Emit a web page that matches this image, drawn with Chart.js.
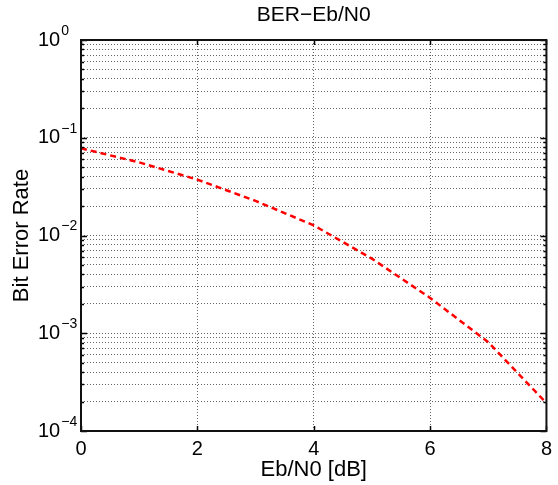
<!DOCTYPE html>
<html>
<head>
<meta charset="utf-8">
<title>BER-Eb/N0</title>
<script src="https://cdn.jsdelivr.net/npm/chart.js@4/dist/chart.umd.min.js"></script>
<style>
  html, body { margin: 0; padding: 0; background: #fff; }
  canvas { display: block; }
</style>
</head>
<body>
<canvas id="graph" width="558" height="485"></canvas>
<script>
var ebn0 = [0, 1, 2, 3, 4, 5, 6, 7, 8]; // Eb/N0 [dB]
var ber = [0.078, 0.056, 0.0373, 0.0226, 0.0127, 0.0058, 0.0023, 0.00081, 0.000193]; // bit error rate
var xTicks = [0, 2, 4, 6, 8];
var yExponents = [0, -1, -2, -3, -4]; // labels 10^n
var yMantissas = [1, 2, 3, 4, 5, 6, 7, 8, 9]; // minor grid in each decade

var fontFamily = '"Liberation Sans", Arial, Helvetica, sans-serif';
var gridColor = 'rgba(0,0,0,0.6)';

// every grid value of the log axis (1e-4 ... 1)
var yGrid = [];
yExponents.slice().reverse().forEach(function(e) {
    if (e === 0) { yGrid.push(1); return; }
    yMantissas.forEach(function(m) { yGrid.push(m * Math.pow(10, e)); });
});

var isDecade = function(v) {
    var l = Math.log10(v);
    return Math.abs(l - Math.round(l)) < 1e-9;
};

// box, inner ticks and 10^n labels, drawn the matlab way
var axesBox = {
    id: 'axesBox',
    afterDatasetsDraw: function(chart) {
        var ctx = chart.ctx;
        var area = chart.chartArea;
        var xs = chart.scales.x;
        var ys = chart.scales.y;
        ctx.save();
        ctx.setLineDash([]);
        ctx.strokeStyle = '#000';
        ctx.lineWidth = 1.5;
        ctx.beginPath();
        ys.ticks.forEach(function(t) {
            var y = Math.round(ys.getPixelForValue(t.value)) + 0.5;
            var len = isDecade(t.value) ? 6 : 3;
            ctx.moveTo(area.left, y); ctx.lineTo(area.left + len, y);
            ctx.moveTo(area.right - len, y); ctx.lineTo(area.right, y);
        });
        xs.ticks.forEach(function(t) {
            var x = Math.round(xs.getPixelForValue(t.value)) + 0.5;
            ctx.moveTo(x, area.top); ctx.lineTo(x, area.top + 5);
            ctx.moveTo(x, area.bottom); ctx.lineTo(x, area.bottom - 5);
        });
        ctx.stroke();
        ctx.lineWidth = 2;
        ctx.strokeStyle = '#111';
        ctx.strokeRect(area.left, area.top, area.right - area.left, area.bottom - area.top);

        // y labels with exponent
        ctx.fillStyle = '#000';
        ctx.textAlign = 'left';
        ctx.textBaseline = 'middle';
        yExponents.forEach(function(e) {
            var y = ys.getPixelForValue(Math.pow(10, e));
            ctx.font = '20px ' + fontFamily;
            ctx.fillText('10', 38, y);
            var w = ctx.measureText('10').width;
            ctx.font = '14px ' + fontFamily;
            ctx.fillText(e < 0 ? '\u2212' + (-e) : String(e), 38 + w + 1, y - 9);
        });
        ctx.restore();
    }
};

var config = {
    type: 'line',
    data: {
        datasets: [{
            label: 'BER',
            data: ebn0.map(function(x, i) { return { x: x, y: ber[i] }; }),
            borderColor: '#ff0000',
            backgroundColor: '#ff0000',
            borderWidth: 2.5,
            borderDash: [6, 4],
            pointRadius: 0,
            tension: 0,
            fill: false
        }]
    },
    options: {
        responsive: false,
        animation: false,
        layout: { padding: { left: 0, right: 8, top: 0, bottom: 0 } },
        plugins: {
            legend: { display: false },
            tooltip: { enabled: false },
            title: {
                display: true,
                fullSize: false,
                text: 'BER\u2212Eb/N0',
                color: '#000',
                font: { family: fontFamily, size: 21, weight: 'normal' },
                padding: { top: 3, bottom: 11.8 }
            }
        },
        scales: {
            x: {
                type: 'linear',
                min: 0,
                max: 8,
                afterBuildTicks: function(scale) {
                    scale.ticks = xTicks.map(function(v) { return { value: v }; });
                },
                ticks: {
                    color: '#000',
                    font: { family: fontFamily, size: 20 },
                    padding: 6,
                    maxRotation: 0
                },
                grid: { color: gridColor, lineWidth: 1, drawTicks: false },
                border: { display: false, dash: [1, 2] },
                title: {
                    display: true,
                    text: 'Eb/N0 [dB]',
                    color: '#000',
                    font: { family: fontFamily, size: 22 },
                    padding: { top: 0, bottom: 2 }
                },
                afterFit: function(scale) { scale.height = 54; }
            },
            y: {
                type: 'logarithmic',
                min: 1e-4,
                max: 1,
                afterBuildTicks: function(scale) {
                    scale.ticks = yGrid.map(function(v) { return { value: v }; });
                },
                ticks: { display: false },
                grid: { color: gridColor, lineWidth: 1, drawTicks: false },
                border: { display: false, dash: [1, 2] },
                title: {
                    display: true,
                    text: 'Bit Error Rate',
                    color: '#000',
                    font: { family: fontFamily, size: 22 },
                    padding: { top: 9, bottom: 0 }
                },
                afterFit: function(scale) { scale.width = 81; }
            }
        }
    },
    plugins: [axesBox]
};

window.onload = function() {
    var ctx = document.getElementById('graph').getContext('2d');
    window.myChart = new Chart(ctx, config);
};
</script>
</body>
</html>
